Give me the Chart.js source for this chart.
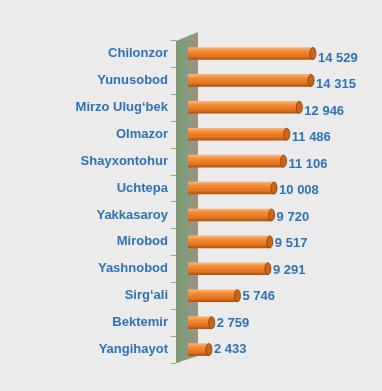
<!DOCTYPE html>
<html><head><meta charset="utf-8">
<script src="https://cdn.jsdelivr.net/npm/chart.js@4.4.1/dist/chart.umd.min.js"></script>
<style>html,body{margin:0;padding:0;background:#ebebeb;}#wrap{width:382px;height:391px;position:relative;}</style>
</head><body><div id="wrap"><canvas id="c" width="382" height="391"></canvas></div>
<script>
const categories = ['Chilonzor','Yunusobod','Mirzo Ulug‘bek','Olmazor','Shayxontohur','Uchtepa','Yakkasaroy','Mirobod','Yashnobod','Sirg‘ali','Bektemir','Yangihayot'];
const values = [14529,14315,12946,11486,11106,10008,9720,9517,9291,5746,2759,2433];
const xMax = 20000;

const TEXT = '#2e73b5';
const FONT = 'bold 13px "Liberation Sans", Arial, sans-serif';

function fmt(v){ return String(v).replace(/\B(?=(\d{3})+(?!\d))/g,' '); }

const wallPlugin = {
  id:'wall',
  beforeDatasetsDraw(chart){
    const ctx = chart.ctx, a = chart.chartArea;
    const x0 = a.left-12, x1 = a.left+10;
    const top = a.top, bot = a.bottom;
    ctx.save();
    const g = ctx.createLinearGradient(x0,0,x1,0);
    g.addColorStop(0,'#8d8f7f'); g.addColorStop(0.2,'#7f9877'); g.addColorStop(0.55,'#879a80'); g.addColorStop(1,'#a28f7d');
    ctx.fillStyle = g;
    ctx.beginPath();
    ctx.moveTo(x0, top+1); ctx.lineTo(x1, top-8); ctx.lineTo(x1, bot-7); ctx.lineTo(x0, bot); ctx.closePath();
    ctx.fill();
    ctx.strokeStyle = '#5fae5a'; ctx.lineWidth = 1;
    ctx.beginPath(); ctx.moveTo(x0+2.5, top+1); ctx.lineTo(x0+2.5, bot); ctx.stroke();
    const y = chart.scales.y;
    const n = categories.length;
    const step = y.getPixelForValue(1)-y.getPixelForValue(0);
    ctx.strokeStyle = '#9aa08f';
    for(let i=0;i<=n;i++){
      const py = y.getPixelForValue(i) - step/2;
      ctx.beginPath(); ctx.moveTo(x0-5, Math.round(py)+0.5); ctx.lineTo(x0, Math.round(py)+0.5); ctx.stroke();
    }
    ctx.restore();
  },
  afterDatasetsDraw(chart){
    const ctx = chart.ctx;
    const meta = chart.getDatasetMeta(0);
    ctx.save();
    meta.data.forEach((el,i)=>{
      const h = el.height;
      ctx.beginPath();
      ctx.ellipse(el.x, el.y, 3, h/2, 0, 0, Math.PI*2);
      ctx.fillStyle = '#c9661c'; ctx.fill();
      ctx.strokeStyle = '#7d3c0c'; ctx.lineWidth = 0.8; ctx.stroke();
      ctx.font = FONT; ctx.fillStyle = TEXT; ctx.textBaseline = 'middle'; ctx.textAlign = 'left';
      const off = 5*(categories.length-1-i)/(categories.length-1);
      ctx.fillText(fmt(values[i]), el.x + 5, el.y + off);
    });
    ctx.restore();
  }
};

new Chart(document.getElementById('c'), {
  type:'bar',
  data:{ labels: categories, datasets:[{
    data: values,
    backgroundColor(ctx){
      const chart = ctx.chart;
      const ys = chart.scales.y;
      if(!ys || ctx.dataIndex===undefined) return '#f08a30';
      const cy = ys.getPixelForValue(ctx.dataIndex);
      if(!isFinite(cy)) return '#f08a30';
      const h = 12;
      const g = chart.ctx.createLinearGradient(0, cy-h/2, 0, cy+h/2);
      g.addColorStop(0,'#f7b57a'); g.addColorStop(0.3,'#f38c35'); g.addColorStop(0.75,'#e3721e'); g.addColorStop(1,'#a9520f');
      return g;
    },
    borderWidth:0,
    barThickness:12
  }]},
  options:{
    indexAxis:'y',
    responsive:false,
    animation:false,
    layout:{padding:{top:40,bottom:28,left:0,right:22}},
    plugins:{legend:{display:false},tooltip:{enabled:false}},
    scales:{
      x:{display:false,min:0,max:xMax},
      y:{
        grid:{display:false,drawTicks:false},
        border:{display:false},
        ticks:{color:TEXT,font:{family:'"Liberation Sans", Arial, sans-serif',size:13,weight:'bold'},padding:20,autoSkip:false},
        afterFit(s){ s.width = 188; }
      }
    }
  },
  plugins:[wallPlugin]
});
</script></body></html>
